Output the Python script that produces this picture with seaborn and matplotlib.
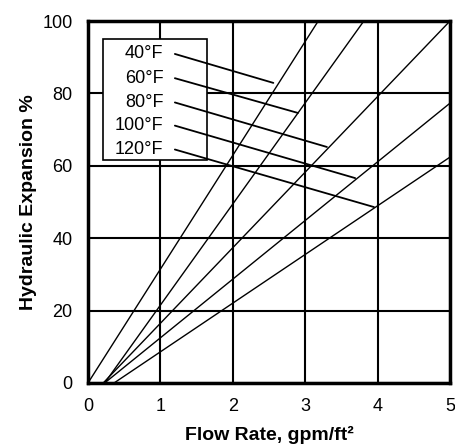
"""
Hydraulic expansion vs flow rate, one line per water temperature
"""

import numpy as np
import pandas as pd
import matplotlib
matplotlib.use('Agg')
import matplotlib.pyplot as plt
from matplotlib.patches import Rectangle
import seaborn as sns

# data (each line is straight: start and end point)
temps = ['40°F', '60°F', '80°F', '100°F', '120°F']
flow_start = [0.0, 0.23, 0.21, 0.23, 0.36]
flow_end = [3.18, 3.81, 5.0, 5.0, 5.0]
exp_start = [0, 0, 0, 0, 0]
exp_end = [100, 100, 100, 77.3, 62.4]

# legend box labels and leader lines
label_y = [90.9, 84.2, 77.5, 71.1, 64.5]
leader_x0 = 1.20
leader_end_x = [2.56, 2.90, 3.30, 3.69, 3.95]
leader_end_y = [82.9, 74.6, 65.2, 56.6, 48.6]

x_ticks = [0, 1, 2, 3, 4, 5]
y_ticks = [0, 20, 40, 60, 80, 100]

sns.set_style('white')
plt.rcParams['font.family'] = ['Liberation Sans', 'DejaVu Sans']
plt.rcParams['text.color'] = 'black'
plt.rcParams['axes.labelcolor'] = 'black'
plt.rcParams['xtick.color'] = 'black'
plt.rcParams['ytick.color'] = 'black'

rows = []
for t, x0, x1, y0, y1 in zip(temps, flow_start, flow_end, exp_start, exp_end):
    rows.append({'temp': t, 'flow': x0, 'exp': y0})
    rows.append({'temp': t, 'flow': x1, 'exp': y1})
df = pd.DataFrame(rows)

fig = plt.figure(figsize=(4.55, 4.46), dpi=100)
ax = fig.add_axes([0.1934, 0.1413, 0.7956, 0.8116])

sns.lineplot(data=df, x='flow', y='exp', units='temp', estimator=None,
             color='black', linewidth=1.0, ax=ax, legend=False, zorder=3)

ax.set_xlim(0, 5)
ax.set_ylim(0, 100)
ax.set_xticks(x_ticks)
ax.set_yticks(y_ticks)
ax.grid(True, color='black', linewidth=1.5)
ax.set_axisbelow(True)
ax.tick_params(length=0, pad=11, labelsize=13)
for s in ax.spines.values():
    s.set_linewidth(2.5)
    s.set_color('black')

# label box
box = Rectangle((0.21, 61.6), 1.44, 33.5, facecolor='white', edgecolor='black',
                linewidth=1.2, zorder=4)
ax.add_patch(box)
for t, ly, ex, ey in zip(temps, label_y, leader_end_x, leader_end_y):
    ax.text(1.04, ly, t, ha='right', va='center', fontsize=13, zorder=5)
    ax.plot([leader_x0, ex], [ly, ey], color='black', linewidth=1.3, zorder=5)

ax.set_xlabel('Flow Rate, gpm/ft²', fontsize=14, fontweight='bold', labelpad=8)
ax.set_ylabel('Hydraulic Expansion %', fontsize=14, fontweight='bold', labelpad=4)

plt.savefig('out.png', dpi=100)
plt.close()
